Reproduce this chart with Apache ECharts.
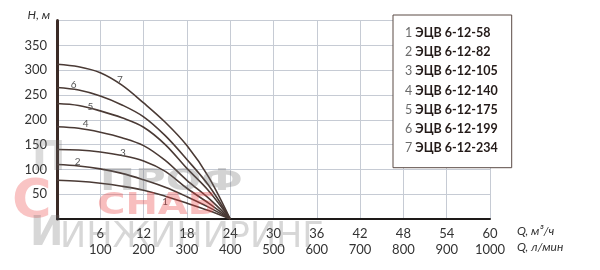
<!DOCTYPE html>
<html><head><meta charset="utf-8">
<script src="https://cdn.jsdelivr.net/npm/echarts@6/dist/echarts.min.js"></script>
<style>html,body{margin:0;padding:0;background:#fff}#c{width:600px;height:270px}</style>
</head><body><div id="c"></div>
<script>
// Flow Q, m3/h (sample positions)
const flowQ = [0, 3, 6, 9, 12, 15, 18, 21, 24];
// Head H, m for each pump model
const head1 = [78, 76, 72, 66, 58, 46, 32, 17, 0];
const head2 = [110, 107, 101, 92, 79, 64, 45, 24, 0];
const head3 = [140, 139, 135, 128, 117, 96, 62, 32, 0];
const head4 = [186, 183, 175, 164, 148, 118, 78, 42, 0];
const head5 = [233, 229, 218, 204, 185, 150, 102, 57, 0];
const head6 = [265, 260, 248, 230, 206, 168, 120, 68, 0];
const head7 = [312, 307, 295, 270, 234, 195, 148, 85, 0];
const modelNames = ['ЭЦВ 6-12-58','ЭЦВ 6-12-82','ЭЦВ 6-12-105','ЭЦВ 6-12-140','ЭЦВ 6-12-175','ЭЦВ 6-12-199','ЭЦВ 6-12-234'];
const curveNumbers = ['1','2','3','4','5','6','7'];
// index of sample where curve number label sits
const labelAt = [5, 1, 3, 1, 2, 1, 3];
const yTicks = [50, 100, 150, 200, 250, 300, 350];
const xTicksQ = [6, 12, 18, 24, 30, 36, 42, 48, 54, 60];
const xTicksL = [100, 200, 300, 400, 500, 600, 700, 800, 900, 1000];

const heads = [head1, head2, head3, head4, head5, head6, head7];
const labelStyle = [
  {position:'bottom', distance:1, offset:[0,0]},
  {position:'top', distance:-1, offset:[-1,0]},
  {position:'top', distance:-2, offset:[1,0]},
  {position:'top', distance:-1, offset:[7,0]},
  {position:'top', distance:-1, offset:[-10,0]},
  {position:'top', distance:0, offset:[-5,0]},
  {position:'top', distance:0, offset:[-2,0]}
];
const FONT = 'Lato';
const lineColor = '#4a3a35';

const series = heads.map((h, i) => ({
  type: 'line',
  name: modelNames[i],
  smooth: 0.35,
  showSymbol: true,
  symbol: 'circle',
  symbolSize: 0,
  lineStyle: {color: lineColor, width: 1.6},
  itemStyle: {color: lineColor},
  emphasis: {disabled: true},
  label: {show: false},
  data: flowQ.map((q, k) => {
    const item = {value: [q, h[k]]};
    if (k === labelAt[i]) {
      item.label = Object.assign({show: true, formatter: curveNumbers[i], color: '#555', fontSize: 10, fontFamily: FONT}, labelStyle[i]);
    }
    return item;
  })
}));

const chart = echarts.init(document.getElementById('c'), null, {renderer: 'canvas'});
chart.setOption({
  animation: false,
  backgroundColor: '#fff',
  grid: {left: 57, right: 110, top: 20.6, bottom: 51, containLabel: false},
  legend: {
    orient: 'vertical', left: 393, top: 15,
    icon: 'none', itemWidth: 0, itemHeight: 14, itemGap: 5.7,
    padding: [11, 14, 13, 7],
    backgroundColor: '#fff', borderColor: '#5a4a45', borderWidth: 1,
    selectedMode: false,
    formatter: name => '{n|' + curveNumbers[modelNames.indexOf(name)] + '} {b|' + name + '}',
    textStyle: {
      fontFamily: FONT,
      rich: {
        n: {color: '#6a6a6a', fontSize: 12.5, fontFamily: FONT},
        b: {color: '#231a18', fontSize: 12.5, fontWeight: 'bold', fontFamily: FONT}
      }
    },
    data: modelNames
  },
  xAxis: [{
    type: 'value', min: 0, max: 60, interval: 6,
    name: 'Q, м³/ч', nameLocation: 'end', nameGap: 27,
    nameTextStyle: {fontFamily: FONT, fontStyle: 'italic', fontSize: 12, color: '#333', align: 'left', verticalAlign: 'top', padding: [6, 0, 0, 0]},
    axisLine: {show: true, lineStyle: {color: '#1e1a19', width: 2}},
    axisTick: {show: false},
    splitLine: {show: true, lineStyle: {color: '#c6cbd4', width: 1}},
    axisLabel: {margin: 8, fontFamily: FONT, fontSize: 13, color: '#333',
      formatter: v => xTicksQ.indexOf(v) >= 0 ? String(v) : ''}
  }, {
    type: 'value', min: 0, max: 1000, interval: 100, position: 'bottom', offset: 16,
    name: 'Q, л/мин', nameLocation: 'end', nameGap: 27,
    nameTextStyle: {fontFamily: FONT, fontStyle: 'italic', fontSize: 12, color: '#333', align: 'left', verticalAlign: 'top', padding: [6, 0, 0, 0]},
    axisLine: {show: false}, axisTick: {show: false}, splitLine: {show: false},
    axisLabel: {margin: 8, fontFamily: FONT, fontSize: 13, color: '#333',
      formatter: v => xTicksL.indexOf(v) >= 0 ? String(v) : ''}
  }],
  yAxis: {
    type: 'value', min: 0, max: 400, interval: 50,
    name: 'H, м', nameLocation: 'end', nameGap: 5,
    nameTextStyle: {fontFamily: FONT, fontStyle: 'italic', fontSize: 12, color: '#333', align: 'right', verticalAlign: 'middle', padding: [0, 7, 0, 0]},
    axisLine: {show: true, lineStyle: {color: '#3a2a26', width: 3}},
    axisTick: {show: false},
    splitLine: {show: true, lineStyle: {color: '#c6cbd4', width: 1}},
    axisLabel: {margin: 10, fontFamily: FONT, fontSize: 13, color: '#333', padding: [0, 0, 6, 0],
      formatter: v => yTicks.indexOf(v) >= 0 ? String(v) : ''}
  },
  graphic: [
    {type: 'text', x: 100, y: 166, scaleX: 1.35, z: 100, silent: true,
      style: {text: 'ПРОФ', font: 'bold 31px "DejaVu Sans"', fill: 'rgba(110,110,110,0.3)'}},
    {type: 'text', x: 97, y: 190, scaleX: 1.25, z: 100, silent: true,
      style: {text: 'СНАБ', font: 'bold 31px "DejaVu Sans"', fill: 'rgba(235,70,70,0.35)'}},
    {type: 'text', x: 60, y: 220, scaleX: 1.08, z: 100, silent: true,
      style: {text: 'ИНЖИНИРИНГ', font: '36px "DejaVu Sans Condensed"', fill: 'rgba(110,110,110,0.28)'}},
    {type: 'text', x: 12, y: 176, z: 100, silent: true,
      style: {text: 'С', font: 'bold 54px "DejaVu Sans"', fill: 'rgba(235,70,70,0.32)'}},
    {type: 'text', x: 32, y: 140, z: 100, silent: true,
      style: {text: 'П', font: 'bold 40px "DejaVu Sans"', fill: 'rgba(110,110,110,0.25)'}},
    {type: 'text', x: 30, y: 215, z: 100, silent: true,
      style: {text: 'И', font: 'bold 40px "DejaVu Sans"', fill: 'rgba(110,110,110,0.28)'}}
  ],
  series: series
});
</script></body></html>
